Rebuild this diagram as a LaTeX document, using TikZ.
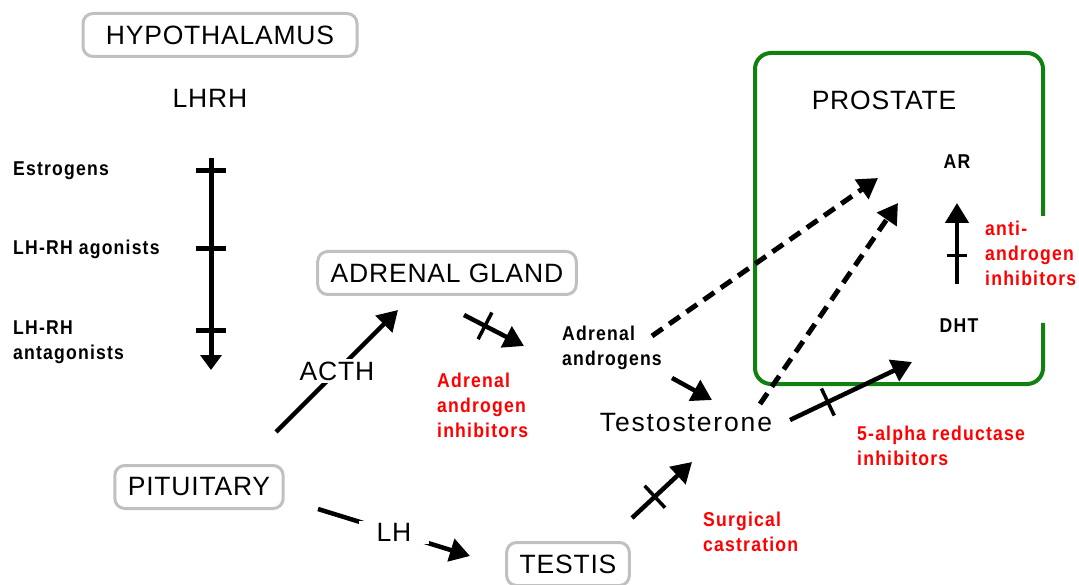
\documentclass[tikz,border=0pt]{standalone}
\usepackage{fontspec}
\setmainfont{Liberation Sans}
\usetikzlibrary{arrows.meta}
\definecolor{boxgray}{RGB}{192,192,192}
\definecolor{prosgreen}{RGB}{16,128,16}
\definecolor{inhred}{RGB}{255,0,0}
\newcommand\bigfont{\fontsize{26.5}{30}\selectfont\addfontfeatures{LetterSpace=3}}
\newcommand\smallfont{\fontsize{20}{25}\selectfont\bfseries\addfontfeatures{FakeStretch=0.88,LetterSpace=6}}

\tikzset{
  organ/.style={draw=boxgray, line width=3pt, rounded corners=10pt, inner xsep=13pt, minimum height=43pt, font=\bigfont},
  big/.style={font=\bigfont, inner sep=1pt},
  small/.style={font=\smallfont, align=left, inner sep=0pt},
  inhib/.style={small, text=inhred},
  arr/.style={line width=4.5pt, -{Triangle[length=20pt,width=23pt]}},
  darr/.style={arr, line width=5pt, dash pattern=on 13pt off 8pt},
  bar/.style={fill=black, inner sep=0pt, minimum width=3.5pt, minimum height=30pt, sloped}
}

\begin{document}
\begin{tikzpicture}[x=1pt,y=-1pt]
  \useasboundingbox (0,0) rectangle (1079,585);

  % organs and hormones
  \node[organ, minimum width=274pt] (hyp) at (220,35) {HYPOTHALAMUS};
  \node[big] (lhrh) at (210,98) {LHRH};
  \node[organ] (adr) at (447,273) {ADRENAL GLAND};
  \node[organ] (pit) at (199,487) {PITUITARY};
  \node[organ] (tes) at (568,564) {TESTIS};
  \node[small, anchor=west] (adand) at (562,348) {Adrenal\\androgens};
  \node[big] (testo) at (686,423) {\addfontfeatures{LetterSpace=7}Testosterone};
  \node[big] (pros) at (884,100) {PROSTATE};
  \node[small] (ar) at (957,162) {AR};
  \node[small] (dht) at (959,326) {DHT};

  % drugs on the LHRH axis
  \node[small, anchor=west] (est) at (13,171) {Estrogens};
  \node[small, anchor=west] (ago) at (13,249) {LH-RH agonists};
  \node[small, anchor=west] (ant) at (13,342) {LH-RH\\antagonists};

  % red inhibitor labels
  \node[inhib, anchor=west] (adrinh) at (437,405) {Adrenal\\androgen\\inhibitors};
  \node[inhib, anchor=west] (redinh) at (857,446) {5-alpha reductase\\inhibitors};
  \node[inhib, anchor=west] (surg) at (703,532) {Surgical\\castration};
  \node[inhib, anchor=west] (antinh) at (985,253) {anti-\\androgen\\inhibitors};

  % prostate frame, open on the right
  \draw[prosgreen, line width=4pt, rounded corners=16pt]
    (1043,216) -- (1043,53) -- (755,53) -- (755,384) -- (1043,384) -- (1043,323);

  % LHRH axis
  \coordinate (ax0) at (211,158);
  \coordinate (ax1) at (211,370);
  \draw[line width=5pt, -{Triangle[length=15pt,width=21pt]}] (ax0) -- (ax1);
  \foreach \y in {171,249,331}
    \draw[line width=5pt] (196,\y) -- (226,\y);

  % end points of the connectors
  \coordinate (pit1) at (276,432);
  \coordinate (adr1) at (398,310);
  \coordinate (pit2) at (318,509);
  \coordinate (tes1) at (470,556);
  \coordinate (adr2) at (464,315);
  \coordinate (adand1) at (524,346);
  \coordinate (adand2) at (672,378);
  \coordinate (adand3) at (652,336);
  \coordinate (tes2) at (632,518);
  \coordinate (testo1) at (692,462);
  \coordinate (testo2) at (712,400);
  \coordinate (testo3) at (760,404);
  \coordinate (testo4) at (790,420);
  \coordinate (ar1) at (878,178);
  \coordinate (ar2) at (898,203);
  \coordinate (ar3) at (957,203);
  \coordinate (dht1) at (912,362);
  \coordinate (dht2) at (957,284);

  \draw[arr] (pit1) -- node[big, fill=white, inner sep=3pt] {ACTH} (adr1);
  \draw[arr] (pit2) -- node[big, fill=white, inner xsep=18pt, inner ysep=2pt] {LH} (tes1);
  \draw[arr] (adr2) -- node[bar, pos=0.35] {} (adand1);
  \draw[arr] (adand2) -- (testo2);
  \draw[arr] (tes2) -- node[bar, pos=0.38] {} (testo1);
  \draw[darr] (adand3) -- (ar1);
  \draw[darr] (testo3) -- (ar2);
  \draw[arr] (testo4) -- node[bar, pos=0.31] {} (dht1);
  \draw[arr] (dht2) -- node[bar, pos=0.35, minimum height=20pt] {} (ar3);
\end{tikzpicture}
\end{document}
